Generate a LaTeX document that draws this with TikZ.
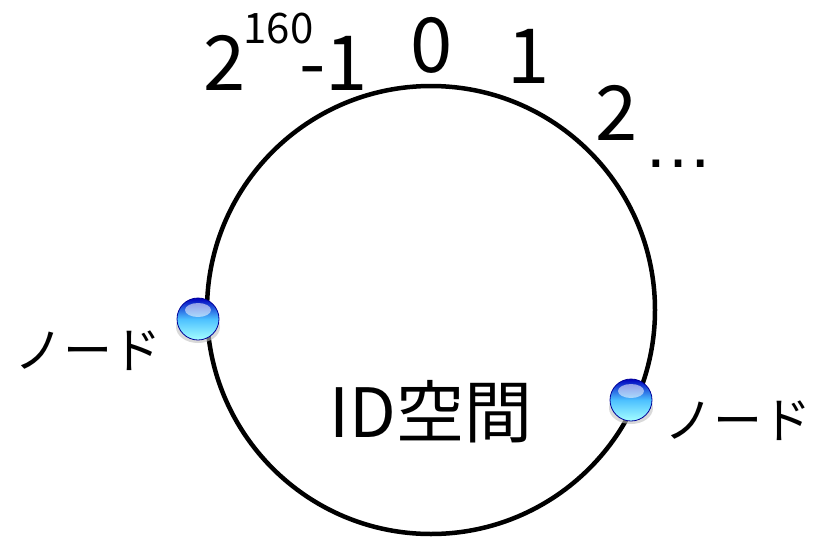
\documentclass[tikz,border=0pt]{standalone}
\usepackage{fontspec}
\setmainfont{Noto Sans CJK JP}
\newfontfamily\dotsfont{Liberation Sans}
\begin{document}
\begin{tikzpicture}[x=1pt,y=-1pt,
  lbl/.style={inner sep=0pt,anchor=base},
  bigtxt/.style={lbl,font=\fontsize{76}{76}\selectfont},
  nodetxt/.style={lbl,font=\fontsize{49}{49}\selectfont},
  idtxt/.style={lbl,font=\fontsize{68}{68}\selectfont},
  ring/.style={draw=black,line width=4.5pt},
  peer/.style={circle,minimum size=42pt,inner sep=0pt,draw=none}
]
\useasboundingbox (0,0) rectangle (814,536);
\node[ring,circle,minimum size=448pt,inner sep=0pt] (ring) at (431,310) {};
% labels on top
\node[bigtxt,anchor=base west] (maxid) at (203,90)
  {2\hspace{-2pt}\raisebox{47pt}{\fontsize{42}{42}\selectfont 160}\hspace{-14pt}-1};
\node[bigtxt] (zero) at (432,72) {0};
\node[bigtxt] (one) at (529,83) {1};
\node[bigtxt] (two) at (617,140) {2};
\node[lbl,font=\dotsfont\fontsize{70}{70}\selectfont] (dots) at (678,167) {…};
\node[idtxt] (id) at (431,437) {ID空間};
% peers
\foreach \n/\p in {pl/{(198,319)},pr/{(631,400)}}{
  \fill[black!25,opacity=0.6] \p ++(0,8) ellipse (22pt and 16pt);
  \node[peer,top color=blue!75!black,bottom color=cyan!35,middle color=blue!35!cyan!70] (\n) at \p {};
  \fill[white,opacity=0.55] \p ++(0,-9) ellipse (13pt and 7pt);
  \draw[blue!60!black,line width=0.8pt] (\n) circle (21pt);
}
\node[nodetxt,anchor=base east] (lnode) at (162,368) {ノード};
\node[nodetxt,anchor=base west] (rnode) at (664,438) {ノード};
\end{tikzpicture}
\end{document}
